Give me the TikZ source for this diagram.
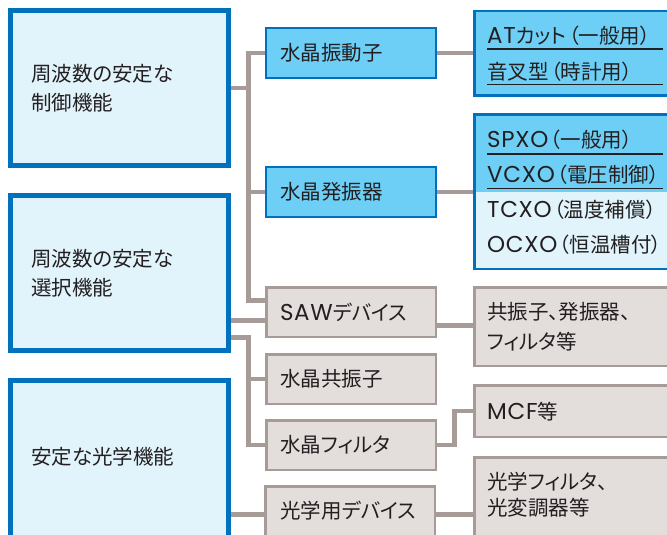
\documentclass[tikz,border=0pt]{standalone}
\usepackage{fontspec}
\setmainfont{Noto Sans CJK JP}[CharacterWidth=AlternateProportional]
\newfontfamily\latf{Poppins}[Scale=1.12, LetterSpace=3]
\newcommand{\lt}[1]{{\latf #1}}
\newcommand{\lpar}{\kern2pt（}
\usetikzlibrary{calc}
\definecolor{bdark}{HTML}{0071BC}
\definecolor{lightb}{HTML}{E1F3FB}
\definecolor{midb}{HTML}{6DCFF6}
\definecolor{greyf}{HTML}{E3DEDC}
\definecolor{gline}{HTML}{A69B97}
\definecolor{tdark}{HTML}{231F20}
\newcommand{\jfont}{\fontsize{20.5pt}{29pt}\selectfont}
\tikzset{
 conn/.style={draw=gline, line width=4.7pt},
 uline/.style={draw=tdark, line width=1.4pt},
 lbox/.style={draw=bdark, line width=5pt, fill=lightb, anchor=north west, minimum width=218pt, minimum height=155pt, inner xsep=20.5pt, inner ysep=0pt, text width=177pt, align=left, font=\jfont, text=tdark},
 mbbox/.style={draw=bdark, line width=2.2pt, fill=midb, anchor=north west, minimum width=169.8pt, minimum height=49.8pt, inner xsep=13.9pt, inner ysep=0pt, text width=142pt, align=left, font=\jfont, text=tdark},
 mgbox/.style={draw=gline, line width=2.5pt, fill=greyf, anchor=north west, minimum width=169.5pt, minimum height=49.5pt, inner xsep=13.75pt, inner ysep=0pt, text width=142pt, align=left, font=\jfont, text=tdark},
 rbbox/.style={draw=bdark, line width=2.5pt, fill=midb, anchor=north west, minimum width=240pt, inner sep=0pt},
 rgbox/.style={draw=gline, line width=2.5pt, fill=greyf, anchor=north west, minimum width=240pt, inner sep=0pt},
 txt/.style={anchor=west, inner sep=0pt, text=tdark, font=\jfont},
}
\begin{document}
\begin{tikzpicture}[x=1pt, y=-1pt]
\useasboundingbox (0,0) rectangle (667,535);
\fill[white] (0,0) rectangle (667,535);
\clip (0,0) rectangle (667,535);
% left boxes
\node[lbox] (b1) at (8,8) {周波数の安定な\\制御機能};
\node[lbox] (b2) at (8,193) {周波数の安定な\\選択機能};
\node[lbox, minimum height=175pt] (b3) at (8,378) {};
\node[txt] (b3t) at (31,457) {安定な光学機能};
% middle boxes
\node[mbbox] (m1) at (265,27) {水晶振動子};
\node[mbbox] (m2) at (265,166) {水晶発振器};
\node[mgbox] (saw) at (265,286) {\lt{SAW}デバイス};
\node[mgbox] (res) at (265,353) {水晶共振子};
\node[mgbox] (filt) at (265,419) {水晶フィルタ};
\node[mgbox, minimum height=80pt] (opt) at (264,485) {};
\node[txt] (optt) at (280,511) {光学用デバイス};
% right boxes
\node[rbbox, minimum height=84.5pt] (r1) at (473,10) {};
\node[rbbox, minimum height=154.5pt] (r2) at (473,113) {};
\fill[lightb] (475.5,192) rectangle (720,267.5);
\node[rgbox, minimum height=78.5pt] (rsaw) at (473,286) {};
\node[rgbox, minimum height=51.5pt] (rmcf) at (473,384) {};
\node[rgbox, minimum height=101.5pt] (ropt) at (473,456) {};
% right texts
\node[txt] (t1) at (487,36) {\lt{AT}カット\lpar 一般用）};
\node[txt] (t2) at (487,72) {音叉型\lpar 時計用）};
\draw[uline] (487,49) -- (663,49);
\draw[uline] (487,84.5) -- (663,84.5);
\node[txt] (t3) at (487,140) {\lt{SPXO}\lpar 一般用）};
\node[txt] (t4) at (487,175) {\lt{VCXO}\lpar 電圧制御）};
\node[txt] (t5) at (487,210) {\lt{TCXO}\lpar 温度補償）};
\node[txt] (t6) at (487,245) {\lt{OCXO}\lpar 恒温槽付）};
\draw[uline] (487,154) -- (663,154);
\draw[uline] (487,188.5) -- (663,188.5);
\node[txt] (t7) at (487,312) {共振子、発振器、};
\node[txt] (t8) at (487,342) {フィルタ等};
\node[txt] (t9) at (487,412) {\lt{MCF}等};
\node[txt] (t10) at (487,482) {光学フィルタ、};
\node[txt] (t11) at (487,508) {光変調器等};
% connectors left
\draw[conn] (b1.east) -- ++(17.5,0);
\draw[conn] (m1.west) -- ++(-16.5,0) |- (265,300.5);
\draw[conn] (m2.west) -- ++(-16.5,0);
\draw[conn] (b2.east |- 0,320.5) -- (saw.west |- 0,320.5);
\draw[conn] (b2.east |- 0,337.5) -- (248.5,337.5) |- (filt.west);
\draw[conn] (res.west) -- ++(-16.5,0);
\draw[conn] (b3.east |- 0,514.5) -- (opt.west |- 0,514.5);
% connectors right
\draw[conn] (m1.east) -- (r1.west |- m1.east);
\draw[conn] (m2.east) -- (r2.west |- m2.east);
\draw[conn] (saw.east |- 0,325.5) -- (rsaw.west |- 0,325.5);
\draw[conn] (filt.east) -- ++(17.5,0) |- (rmcf.west);
\draw[conn] (opt.east |- 0,514.5) -- (ropt.west |- 0,514.5);
\end{tikzpicture}
\end{document}
